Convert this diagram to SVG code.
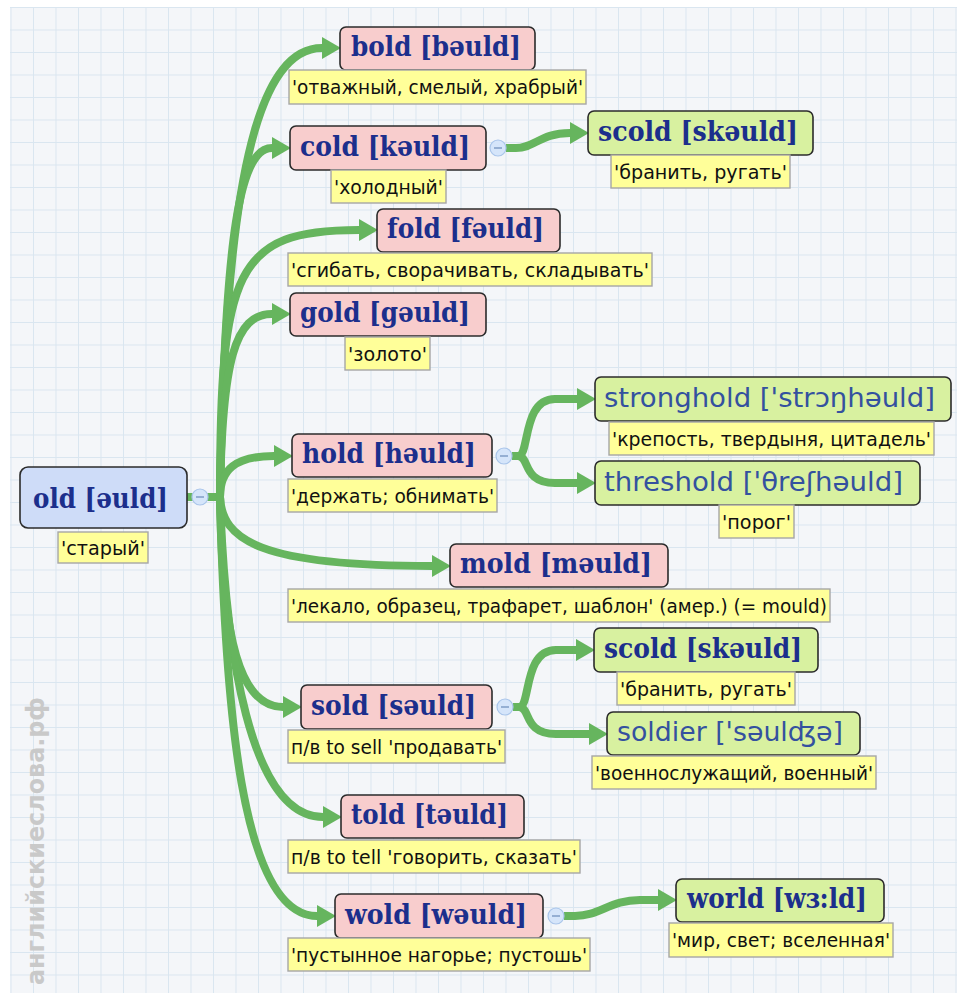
<svg xmlns="http://www.w3.org/2000/svg" width="957" height="995" viewBox="0 0 957 995">
<style>
.hb{fill:#f8cdcd;stroke:#2b2b2b;stroke-width:1.6}
.hg{fill:#d8f1a0;stroke:#2b2b2b;stroke-width:1.6}
.hr{fill:#cedcf8;stroke:#2b2b2b;stroke-width:1.6}
.lb{fill:#ffff99;stroke:#a6a6a6;stroke-width:1.4}
.t1{font-family:"DejaVu Serif","Liberation Serif",serif;font-weight:bold;font-size:27px;fill:#1c2f8c}
.t2{font-family:"DejaVu Sans","Liberation Sans",sans-serif;font-size:26px;fill:#34519f}
.tl{font-family:"DejaVu Sans","Liberation Sans",sans-serif;font-size:19px;fill:#111}
.cc{fill:#d5e5fa;stroke:#a9c5ea;stroke-width:1.2}
.cm{stroke:#7f9cc6;stroke-width:1.5}
.cn{fill:none;stroke:#66b55e;stroke-width:8}
.wm{font-family:"DejaVu Sans","Liberation Sans",sans-serif;font-weight:bold;font-size:24px;fill:#c9c9c9}
</style>
<defs>
<pattern id="grid" x="10.5" y="7" width="22.5" height="22.5" patternUnits="userSpaceOnUse">
<path d="M0 0.5 H22.5 M0.5 0 V22.5" fill="none" stroke="#dae6f0" stroke-width="1"/>
</pattern>
<marker id="ah" markerUnits="userSpaceOnUse" markerWidth="20" markerHeight="22" refX="0" refY="11" orient="auto">
<path d="M0,0 L19,11 L0,22 z" fill="#66b55e"/>
</marker>
</defs>
<rect x="0" y="0" width="957" height="995" fill="#ffffff"/>
<rect x="10" y="7" width="947" height="986" fill="#f4f6f9"/>
<rect x="10" y="7" width="947" height="986" fill="url(#grid)"/>
<text class="wm" transform="translate(44,985) rotate(-90)" x="0" y="0" textLength="288" lengthAdjust="spacingAndGlyphs">английскиеслова.рф</text>

<g id="connectors">
<path class="cn" d="M187 497 L222 497"/>
<path class="cn" marker-end="url(#ah)" d="M220 497 C225 150, 265 48, 322 48"/>
<path class="cn" marker-end="url(#ah)" d="M220 497 C225 230, 240 148, 272 148"/>
<path class="cn" marker-end="url(#ah)" d="M220 497 C220 270, 235 230, 359 230"/>
<path class="cn" marker-end="url(#ah)" d="M220 497 C222 360, 235 314, 272 314"/>
<path class="cn" marker-end="url(#ah)" d="M220 497 C220 470, 235 456, 274 456"/>
<path class="cn" marker-end="url(#ah)" d="M220 497 C222 540, 260 566, 432 566"/>
<path class="cn" marker-end="url(#ah)" d="M220 497 C222 640, 240 707, 283 707"/>
<path class="cn" marker-end="url(#ah)" d="M220 497 C225 650, 250 817, 323 817"/>
<path class="cn" marker-end="url(#ah)" d="M220 497 C225 700, 240 916, 317 916"/>
<path class="cn" marker-end="url(#ah)" d="M506 148 L516 148 C535 148, 540 133, 570 133"/>
<path class="cn" marker-end="url(#ah)" d="M512 456 L518 456 C530 456, 522 399, 555 399 L577 399"/>
<path class="cn" marker-end="url(#ah)" d="M512 456 L518 456 C530 456, 522 483, 555 483 L577 483"/>
<path class="cn" marker-end="url(#ah)" d="M513 707 L519 707 C531 707, 523 650, 556 650 L576 650"/>
<path class="cn" marker-end="url(#ah)" d="M513 707 L519 707 C531 707, 523 734, 556 734 L589 734"/>
<path class="cn" marker-end="url(#ah)" d="M564 916 L575 916 C600 916, 610 900, 640 900 L658 900"/>
</g>

<g id="n-old">
<rect class="hr" x="20" y="467" width="167" height="61" rx="8"/>
<text class="t1" x="33" y="508" font-size="30" textLength="135" lengthAdjust="spacingAndGlyphs">old [əuld]</text>
<rect class="lb" x="58" y="532" width="90" height="31"/>
<text class="tl" x="61" y="555" textLength="84" lengthAdjust="spacingAndGlyphs">'старый'</text>
<circle class="cc" cx="200" cy="497" r="8"/><path class="cm" d="M196 497 H204"/>
</g>

<g id="n-bold">
<rect class="hb" x="340" y="27" width="195" height="43" rx="6"/>
<text class="t1" x="351" y="56" textLength="170" lengthAdjust="spacingAndGlyphs">bold [bəuld]</text>
<rect class="lb" x="289" y="70" width="297" height="34"/>
<text class="tl" x="292" y="94" textLength="291" lengthAdjust="spacingAndGlyphs">'отважный, смелый, храбрый'</text>
</g>

<g id="n-cold">
<rect class="hb" x="290" y="126" width="196" height="44" rx="6"/>
<text class="t1" x="300" y="156" textLength="170" lengthAdjust="spacingAndGlyphs">cold [kəuld]</text>
<rect class="lb" x="331" y="170" width="115" height="33"/>
<text class="tl" x="334" y="194" textLength="109" lengthAdjust="spacingAndGlyphs">'холодный'</text>
<circle class="cc" cx="498" cy="148" r="8"/><path class="cm" d="M494 148 H502"/>
</g>

<g id="n-scold1">
<rect class="hg" x="588" y="111" width="225" height="44" rx="6"/>
<text class="t1" x="598" y="141" textLength="200" lengthAdjust="spacingAndGlyphs">scold [skəuld]</text>
<rect class="lb" x="611" y="155" width="179" height="33"/>
<text class="tl" x="614" y="179" textLength="173" lengthAdjust="spacingAndGlyphs">'бранить, ругать'</text>
</g>

<g id="n-fold">
<rect class="hb" x="377" y="209" width="183" height="43" rx="6"/>
<text class="t1" x="387" y="238" textLength="157" lengthAdjust="spacingAndGlyphs">fold [fəuld]</text>
<rect class="lb" x="288" y="253" width="364" height="33"/>
<text class="tl" x="291" y="277" textLength="358" lengthAdjust="spacingAndGlyphs">'сгибать, сворачивать, складывать'</text>
</g>

<g id="n-gold">
<rect class="hb" x="290" y="293" width="196" height="43" rx="6"/>
<text class="t1" x="300" y="322" textLength="170" lengthAdjust="spacingAndGlyphs">gold [gəuld]</text>
<rect class="lb" x="345" y="337" width="85" height="33"/>
<text class="tl" x="348" y="361" textLength="79" lengthAdjust="spacingAndGlyphs">'золото'</text>
</g>

<g id="n-hold">
<rect class="hb" x="292" y="434" width="200" height="43" rx="6"/>
<text class="t1" x="302" y="463" textLength="174" lengthAdjust="spacingAndGlyphs">hold [həuld]</text>
<rect class="lb" x="288" y="479" width="209" height="33"/>
<text class="tl" x="291" y="503" textLength="203" lengthAdjust="spacingAndGlyphs">'держать; обнимать'</text>
<circle class="cc" cx="504" cy="456" r="8"/><path class="cm" d="M500 456 H508"/>
</g>

<g id="n-stronghold">
<rect class="hg" x="595" y="377" width="356" height="44" rx="6"/>
<text class="t2" x="604" y="407" textLength="331" lengthAdjust="spacingAndGlyphs">stronghold ['strɔŋhəuld]</text>
<rect class="lb" x="609" y="422" width="325" height="33"/>
<text class="tl" x="612" y="446" textLength="319" lengthAdjust="spacingAndGlyphs">'крепость, твердыня, цитадель'</text>
</g>

<g id="n-threshold">
<rect class="hg" x="595" y="461" width="325" height="44" rx="6"/>
<text class="t2" x="604" y="491" textLength="299" lengthAdjust="spacingAndGlyphs">threshold ['θreʃhəuld]</text>
<rect class="lb" x="719" y="505" width="75" height="33"/>
<text class="tl" x="722" y="529" textLength="69" lengthAdjust="spacingAndGlyphs">'порог'</text>
</g>

<g id="n-mold">
<rect class="hb" x="450" y="544" width="218" height="43" rx="6"/>
<text class="t1" x="460" y="573" textLength="192" lengthAdjust="spacingAndGlyphs">mold [məuld]</text>
<rect class="lb" x="288" y="589" width="542" height="33"/>
<text class="tl" x="291" y="613" textLength="536" lengthAdjust="spacingAndGlyphs">'лекало, образец, трафарет, шаблон' (амер.) (= mould)</text>
</g>

<g id="n-sold">
<rect class="hb" x="301" y="685" width="191" height="44" rx="6"/>
<text class="t1" x="311" y="715" textLength="165" lengthAdjust="spacingAndGlyphs">sold [səuld]</text>
<rect class="lb" x="288" y="730" width="217" height="33"/>
<text class="tl" x="291" y="754" textLength="211" lengthAdjust="spacingAndGlyphs">п/в to sell 'продавать'</text>
<circle class="cc" cx="505" cy="707" r="8"/><path class="cm" d="M501 707 H509"/>
</g>

<g id="n-scold2">
<rect class="hg" x="594" y="628" width="224" height="44" rx="6"/>
<text class="t1" x="604" y="658" textLength="198" lengthAdjust="spacingAndGlyphs">scold [skəuld]</text>
<rect class="lb" x="617" y="672" width="178" height="33"/>
<text class="tl" x="620" y="696" textLength="172" lengthAdjust="spacingAndGlyphs">'бранить, ругать'</text>
</g>

<g id="n-soldier">
<rect class="hg" x="607" y="712" width="253" height="43" rx="6"/>
<text class="t2" x="617" y="741" textLength="226" lengthAdjust="spacingAndGlyphs">soldier ['səulʤə]</text>
<rect class="lb" x="592" y="756" width="284" height="33"/>
<text class="tl" x="595" y="780" textLength="278" lengthAdjust="spacingAndGlyphs">'военнослужащий, военный'</text>
</g>

<g id="n-told">
<rect class="hb" x="341" y="795" width="183" height="43" rx="6"/>
<text class="t1" x="351" y="824" textLength="157" lengthAdjust="spacingAndGlyphs">told [təuld]</text>
<rect class="lb" x="288" y="840" width="292" height="33"/>
<text class="tl" x="291" y="864" textLength="286" lengthAdjust="spacingAndGlyphs">п/в to tell 'говорить, сказать'</text>
</g>

<g id="n-wold">
<rect class="hb" x="335" y="894" width="208" height="44" rx="6"/>
<text class="t1" x="345" y="924" textLength="182" lengthAdjust="spacingAndGlyphs">wold [wəuld]</text>
<rect class="lb" x="288" y="938" width="302" height="33"/>
<text class="tl" x="291" y="962" textLength="296" lengthAdjust="spacingAndGlyphs">'пустынное нагорье; пустошь'</text>
<circle class="cc" cx="556" cy="916" r="8"/><path class="cm" d="M552 916 H560"/>
</g>

<g id="n-world">
<rect class="hg" x="676" y="879" width="208" height="43" rx="6"/>
<text class="t1" x="687" y="908" textLength="180" lengthAdjust="spacingAndGlyphs">world [wɜ:ld]</text>
<rect class="lb" x="669" y="923" width="224" height="34"/>
<text class="tl" x="672" y="947" textLength="218" lengthAdjust="spacingAndGlyphs">'мир, свет; вселенная'</text>
</g>
</svg>
